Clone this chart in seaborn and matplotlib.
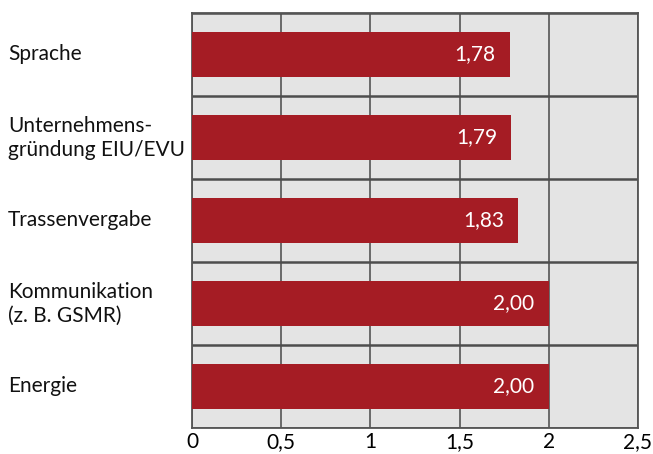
import pandas as pd
import matplotlib.pyplot as plt
import matplotlib.transforms as mtransforms
import seaborn as sns

# =========================
# Daten
# =========================
kategorien = [
    "Sprache",
    "Unternehmens-\ngründung EIU/EVU",
    "Trassenvergabe",
    "Kommunikation\n(z. B. GSMR)",
    "Energie",
]
werte = [1.78, 1.79, 1.83, 2.00, 2.00]
x_ticks = [0, 0.5, 1, 1.5, 2, 2.5]
x_labels = ["0", "0,5", "1", "1,5", "2", "2,5"]

df = pd.DataFrame({"Kategorie": kategorien, "Wert": werte})

# =========================
# Plot
# =========================
sns.set_style("white")
plt.rcParams["font.family"] = ["Lato", "DejaVu Sans"]

fig = plt.figure(figsize=(6.53, 4.54), dpi=100)
ax = fig.add_axes([192 / 653, 26 / 454, 446 / 653, 415 / 454])
ax.set_facecolor("#e4e4e4")

sns.barplot(
    data=df,
    x="Wert",
    y="Kategorie",
    orient="h",
    color="#a51c24",
    saturation=1,
    width=0.55,
    linewidth=0,
    edgecolor="none",
    ax=ax,
    zorder=3,
)

ax.set_xlim(0, 2.5)
ax.set_ylim(len(kategorien) - 0.5, -0.5)
ax.set_xticks(x_ticks)
ax.set_xticklabels(x_labels, fontsize=15, color="black")
ax.set_yticks(range(len(kategorien)))
ax.set_yticklabels([])
ax.tick_params(axis="both", length=0)
ax.tick_params(axis="x", pad=3)

# Gitter
ax.set_yticks([i - 0.5 for i in range(len(kategorien) + 1)], minor=True)
ax.grid(axis="x", which="major", color="#555555", linewidth=1.2, zorder=1)
ax.grid(axis="y", which="minor", color="#4d4d4d", linewidth=1.8, zorder=1)
ax.set_axisbelow(True)
for s in ax.spines.values():
    s.set_visible(True)
    s.set_color("#555555")
    s.set_linewidth(1.3)
ax.set_xlabel("")
ax.set_ylabel("")

# Kategorien links
trans = mtransforms.blended_transform_factory(fig.transFigure, ax.transData)
for i, k in enumerate(kategorien):
    ax.text(8 / 653, i, k, transform=trans, ha="left", va="center",
            fontsize=15, color="#111111", linespacing=1.25)

# Werte in den Balken
for i, v in enumerate(werte):
    ax.text(v - 0.08, i, f"{v:.2f}".replace(".", ","), ha="right", va="center",
            fontsize=15, color="white", zorder=4)

fig.savefig("out.png", dpi=100)
